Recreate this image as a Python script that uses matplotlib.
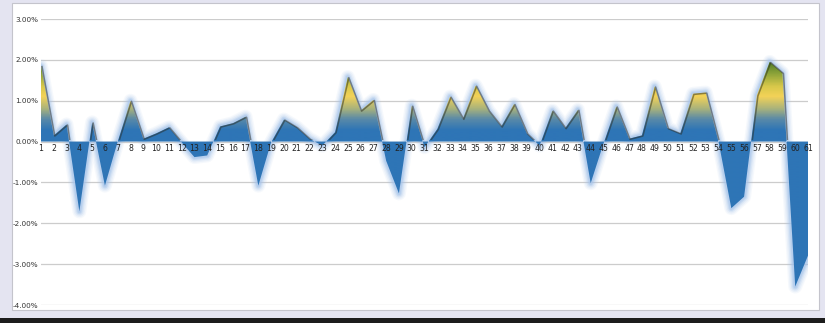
import matplotlib.pyplot as plt
import numpy as np
from matplotlib.colors import LinearSegmentedColormap
from matplotlib.patches import Polygon, Rectangle

# Retorno por periodo (%)
periodos = list(range(1, 62))
retornos = [
    1.85, 0.15, 0.42, -1.71, 0.47, -1.08, 0.00, 1.00, 0.07, 0.20,
    0.35, -0.02, -0.38, -0.34, 0.37, 0.45, 0.61, -1.08, -0.02, 0.54,
    0.35, 0.07, -0.10, 0.23, 1.58, 0.76, 1.02, -0.47, -1.27, 0.88,
    -0.14, 0.31, 1.10, 0.56, 1.37, 0.76, 0.37, 0.92, 0.20, -0.10,
    0.76, 0.33, 0.78, -1.02, -0.05, 0.86, 0.07, 0.15, 1.35, 0.33,
    0.20, 1.17, 1.20, 0.00, -1.63, -1.35, 1.13, 1.95, 1.68, -3.55,
    -2.79,
]
ticks_y = [3, 2, 1, 0, -1, -2, -3, -4]

x = np.array(periodos, dtype=float)
y = np.array(retornos)

W, H = 825, 323
fig = plt.figure(figsize=(W / 100, H / 100), dpi=100)
fig.patch.set_facecolor("#e4e4f1")

# panel blanco y franja negra inferior
fig.add_artist(Rectangle((12 / W, 1 - 310 / H), 807 / W, 307 / H,
                         transform=fig.transFigure, facecolor="white",
                         edgecolor="#c4c4cc", linewidth=0.8, zorder=0))
fig.add_artist(Rectangle((0, 0), 1, 5 / H, transform=fig.transFigure,
                         facecolor="#1c1c1c", edgecolor="none", zorder=0))

ax = fig.add_axes([41 / W, 1 - 305 / H, 767 / W, 286 / H])
ax.set_facecolor("none")
ax.set_xlim(1, 61)
ax.set_ylim(-4, 3)

# grilla horizontal
for t in ticks_y:
    ax.axhline(t, color="#cccccc", linewidth=0.9, zorder=1)
ax.set_yticks(ticks_y)
ax.set_yticklabels([f"{t:.2f}%" for t in ticks_y], fontsize=5.2, color="#333333")
ax.tick_params(axis="y", length=0, pad=2)

# etiquetas de x sobre la línea del cero
ax.spines["bottom"].set_position(("data", 0))
for s in ax.spines.values():
    s.set_visible(False)
ax.set_xticks(periodos)
ax.set_xticklabels([str(p) for p in periodos], fontsize=5.6, color="#222222")
ax.tick_params(axis="x", length=0, pad=1.5)
ax.xaxis.set_zorder(10)

# halo celeste alrededor del área
for lw, a in [(10, 0.10), (8, 0.15), (6, 0.22), (4.2, 0.35), (2.6, 0.5)]:
    ax.plot(x, y, color="#a6c4ea", linewidth=lw, alpha=a,
            solid_joinstyle="round", solid_capstyle="round", zorder=2)

# área con degradé vertical azul -> amarillo -> verde (paradas en % del eje y)
y0, y1 = -4.0, 2.1
paradas = [(-4.0, "#2e75b6"), (0.28, "#2e75b6"), (0.55, "#5a8aa8"),
           (0.8, "#a8b27c"), (1.1, "#f3d258"), (1.35, "#d8c84a"),
           (1.65, "#8fa53a"), (1.95, "#4d7b27"), (2.1, "#44701f")]
cmap = LinearSegmentedColormap.from_list(
    "relleno", [((v - y0) / (y1 - y0), c) for v, c in paradas])
grad = np.linspace(0, 1, 600).reshape(-1, 1)
img = ax.imshow(grad, cmap=cmap, aspect="auto", origin="lower",
                extent=[1, 61, y0, y1], interpolation="bilinear", zorder=3)
verts = [(x[0], 0)] + list(zip(x, y)) + [(x[-1], 0)]
poly = Polygon(verts, closed=True, transform=ax.transData,
               facecolor="none", edgecolor="none")
ax.add_patch(poly)
img.set_clip_path(poly)

# borde oscuro en la parte superior de los picos
borde, = ax.plot(x + 0.08, y - 0.015, color="#2a2a20", linewidth=1.1,
                 alpha=0.5, zorder=4)
clip = Rectangle((1, 0.05), 60, 3, transform=ax.transData,
                 facecolor="none", edgecolor="none")
ax.add_patch(clip)
borde.set_clip_path(clip)

ax.set_zorder(2)
fig.savefig("out.png", dpi=100, facecolor=fig.get_facecolor())
